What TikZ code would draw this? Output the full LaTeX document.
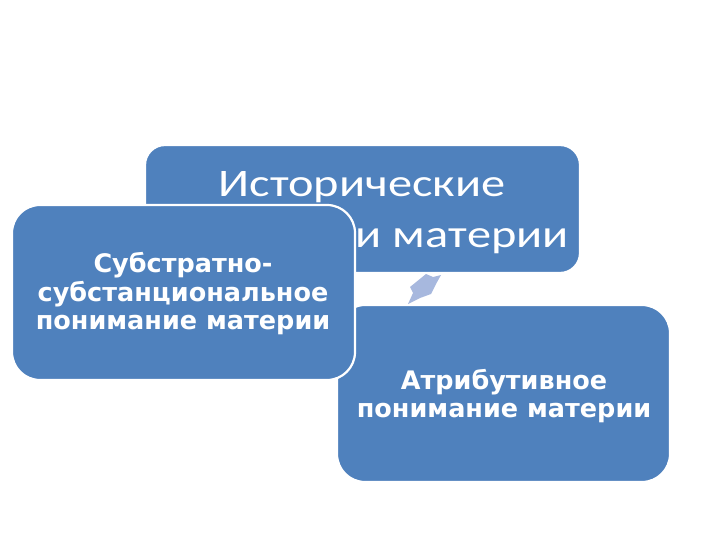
\documentclass[tikz,border=0pt]{standalone}
\usepackage{fontspec}
\setmainfont{Carlito}
\newfontfamily\titlefont[FakeStretch=1.24]{Carlito}
\newfontfamily\boxfont{DejaVu Sans}
\definecolor{boxblue}{HTML}{4F81BD}
\definecolor{arrowblue}{HTML}{A7B8DE}
\begin{document}
\begin{tikzpicture}[x=1pt,y=-1pt,
  blue box/.style={fill=boxblue,draw=white,line width=2.2pt},
  title text/.style={text=white,font=\titlefont\fontsize{39}{51}\selectfont,align=center},
  body text/.style={text=white,font=\boxfont\bfseries\fontsize{25.5}{28.5}\selectfont,align=center}]
\useasboundingbox (0,0) rectangle (720,540);
% top box
\draw[blue box,rounded corners=20pt] (145,145) rectangle (580,273);
\node[title text] (top) at (362,213) {Исторические\\концепции материи};
% right box
\draw[blue box,rounded corners=28pt] (337,305) rectangle (670,482);
\node[body text] (right) at (504,396) {Атрибутивное\\понимание материи};
% arrow
\fill[arrowblue] (426,274) -- (433,277) -- (441,275) -- (436,284) -- (431,294) -- (420,298) -- (408,304) -- (413,293) -- (410,287) -- cycle;
% left box
\draw[blue box,rounded corners=28pt] (12,205) rectangle (355,380);
\node[body text] (left) at (183,294) {Субстратно-\\субстанциональное\\понимание материи};
\end{tikzpicture}
\end{document}
